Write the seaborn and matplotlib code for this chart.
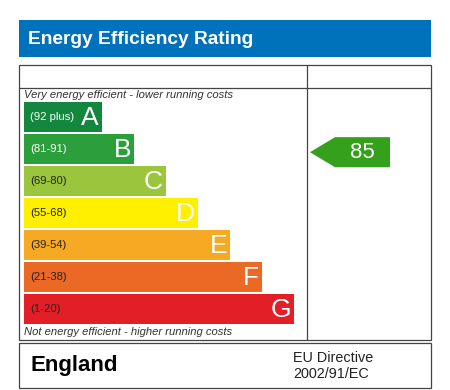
import matplotlib
matplotlib.use("Agg")
import matplotlib.pyplot as plt
from matplotlib.patches import Rectangle, Polygon
import seaborn as sns

# EPC bands, top (best) to bottom (worst)
bands = ["A", "B", "C", "D", "E", "F", "G"]
ranges = ["(92 plus)", "(81-91)", "(69-80)", "(55-68)", "(39-54)", "(21-38)", "(1-20)"]
bar_length = [78, 110, 142, 174, 206, 238, 270]
band_colors = ["#13873d", "#2a9f3b", "#9bc53c", "#fff000", "#f6aa24", "#ea6a25", "#e21f26"]
range_text_colors = ["white", "white", "#222222", "#222222", "#222222", "#222222", "#222222"]

current_rating = 85
current_band = "B"
arrow_color = "#34a01b"

title = "Energy Efficiency Rating"
top_note = "Very energy efficient - lower running costs"
bottom_note = "Not energy efficient - higher running costs"
country = "England"
directive = "EU Directive\n2002/91/EC"

sns.set_style("white")
plt.rcParams["font.family"] = ["Liberation Sans", "DejaVu Sans"]

W, H = 450, 390
fig = plt.figure(figsize=(W / 100, H / 100), dpi=100)

# background axes in pixel units
ax = fig.add_axes([0, 0, 1, 1])
ax.set_xlim(0, W)
ax.set_ylim(H, 0)
ax.axis("off")

line_kw = dict(color="#444444", lw=0.9)

# title bar
ax.add_patch(Rectangle((19, 20), 412, 37, color="#0072bc", lw=0))
ax.text(28, 39, title, color="white", fontsize=13.8, fontweight="bold", va="center", ha="left")

# main frame
ax.add_patch(Rectangle((19, 65), 412, 275, fill=False, **line_kw))
ax.plot([19, 431], [88, 88], **line_kw)
ax.plot([307, 307], [65, 340], **line_kw)
ax.text(24, 95, top_note, fontsize=8.1, style="italic", color="#333333", va="center")
ax.text(24, 332, bottom_note, fontsize=8.1, style="italic", color="#333333", va="center")

# country box
ax.add_patch(Rectangle((19, 343), 412, 45, fill=False, **line_kw))
ax.text(30, 366, country, fontsize=16, fontweight="bold", color="black", va="center")
ax.text(293, 366, directive, fontsize=10.4, color="#222222", va="center", linespacing=1.1)

# rating bars
axb = fig.add_axes([24 / W, 1 - 325 / H, (431 - 24) / W, 224 / H])
sns.barplot(x=bar_length, y=bands, hue=bands, palette=band_colors, legend=False,
            orient="h", width=0.94, saturation=1, linewidth=0, ax=axb)
axb.set_xlim(0, 407)
axb.set_ylim(6.5, -0.5)
axb.axis("off")

for i, (b, r, L) in enumerate(zip(bands, ranges, bar_length)):
    axb.text(6, i, r, fontsize=8.1, color=range_text_colors[i], va="center", ha="left")
    axb.text(L - 3, i + 0.03, b, fontsize=19, color="white", va="center", ha="right")

# current rating arrow
yi = bands.index(current_band) + 0.1
h = 0.47
arrow = Polygon([(286, yi), (311, yi - h), (366, yi - h), (366, yi + h), (311, yi + h)],
                closed=True, color=arrow_color, lw=0)
axb.add_patch(arrow)
axb.text(338, yi + 0.02, str(current_rating), fontsize=16, color="white", va="center", ha="center")

fig.savefig("out.png", dpi=100)
